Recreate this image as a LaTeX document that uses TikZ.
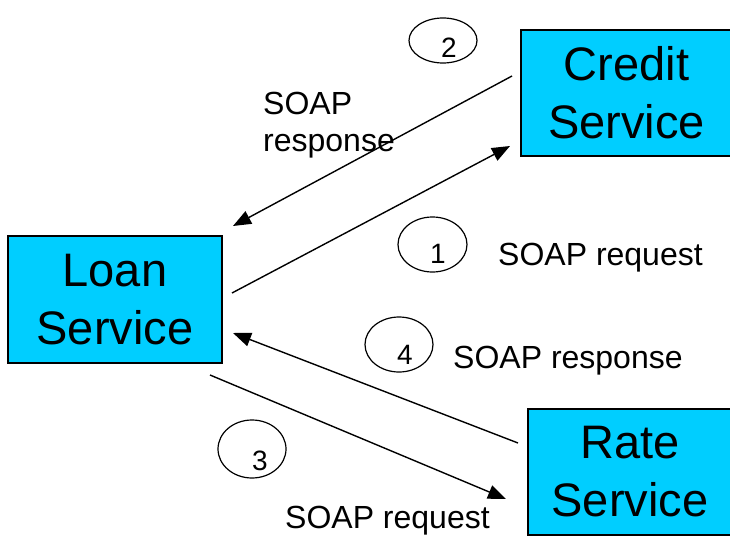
\documentclass[tikz,border=0pt]{standalone}
\usepackage{fontspec}
\setmainfont{Liberation Sans}
\usetikzlibrary{arrows.meta,shapes.geometric}
\definecolor{svcfill}{RGB}{0,206,255}
\tikzset{
  svc/.style={draw=black, line width=1.5pt, fill=svcfill, align=center,
    inner sep=0pt, font=\fontsize{47}{58}\selectfont},
  msg/.style={draw=black, line width=1.4pt, -{Triangle[length=18pt,width=14pt]}},
  numcirc/.style={draw=black, line width=1.2pt, ellipse, inner sep=0pt},
  numtxt/.style={inner sep=0pt, font=\fontsize{28}{32}\selectfont},
  lbl/.style={inner sep=0pt, align=left, font=\fontsize{32}{37}\selectfont}
}
\begin{document}
\begin{tikzpicture}[x=1pt, y=-1pt]
\useasboundingbox (0,0) rectangle (730,540);
\clip (0,0) rectangle (730,540);

% services
\node[svc, minimum width=211pt, minimum height=126pt] (credit) at (626.5,93) {Credit\\Service};
\node[svc, minimum width=214pt, minimum height=127pt] (loan) at (115,299.5) {Loan\\Service};
\node[svc, minimum width=204pt, minimum height=126pt] (rate) at (630,472) {Rate\\Service};

% connector end points
\coordinate (r1s) at (232,293);
\coordinate (r1e) at (510,146);
\coordinate (r2s) at (512,76);
\coordinate (r2e) at (233,226);
\coordinate (r3s) at (210,375);
\coordinate (r3e) at (506,499);
\coordinate (r4s) at (518,443);
\coordinate (r4e) at (233,333);

\draw[msg] (r1s) -- (r1e);
\draw[msg] (r2s) -- (r2e);
\draw[msg] (r3s) -- (r3e);
\draw[msg] (r4s) -- (r4e);

% step numbers
\node[numcirc, minimum width=68pt, minimum height=45pt] (c2) at (443,40.5) {};
\node[numtxt] (t2) at (449,47.5) {2};
\node[numcirc, minimum width=69pt, minimum height=55pt] (c1) at (432.5,244.5) {};
\node[numtxt] (t1) at (438,254) {1};
\node[numcirc, minimum width=68pt, minimum height=55pt] (c4) at (399,344.5) {};
\node[numtxt] (t4) at (405,355) {4};
\node[numcirc, minimum width=68pt, minimum height=58pt] (c3) at (252,449) {};
\node[numtxt] (t3) at (260,461) {3};

% message labels (base anchor of a two-line node sits on its last line)
\node[lbl, anchor=base west] (l2) at (263,152) {SOAP\\response};
\node[lbl, anchor=base west] (l1) at (498,265) {SOAP request};
\node[lbl, anchor=base west] (l4) at (453,368) {SOAP response};
\node[lbl, anchor=base west] (l3) at (285,528) {SOAP request};
\end{tikzpicture}
\end{document}
